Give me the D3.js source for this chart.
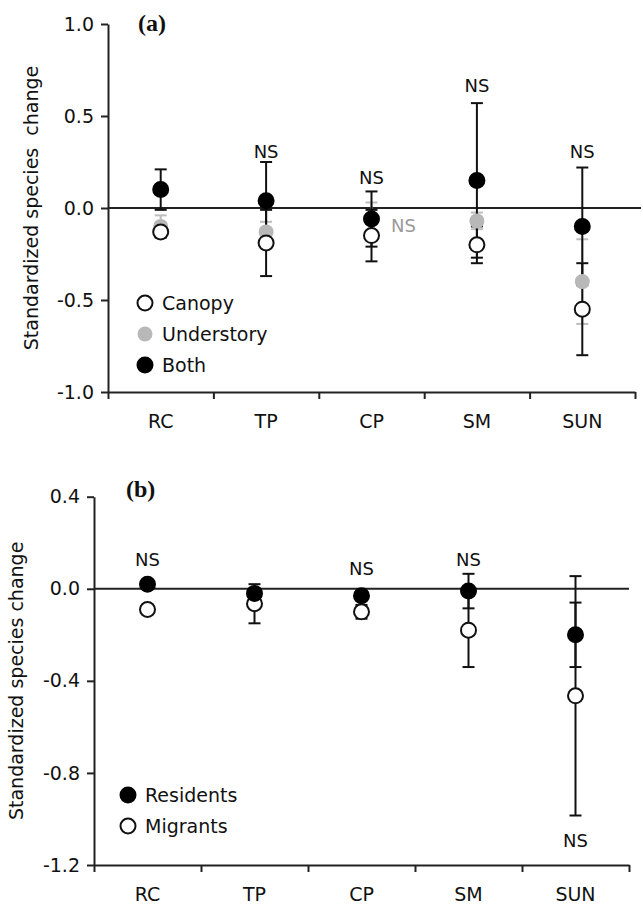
<!DOCTYPE html>
<html>
<head>
<meta charset="utf-8">
<script src="https://cdn.jsdelivr.net/npm/d3@7"></script>
<style>
  body { margin: 0; background: #fff; }
  svg text { font-family: "DejaVu Sans", Verdana, sans-serif; fill: #111; }
  .axis path, .axis line { stroke: #222; stroke-width: 2; }
  .axis text { font-size: 19px; }
</style>
</head>
<body>
<div class="chart"></div>
<script>
// categories (shared by both panels)
const categories = ["RC", "TP", "CP", "SM", "SUN"];

// panel (a)
const canopyMean = [-0.13, -0.19, -0.15, -0.20, -0.55];
const canopyErr = [0.03, 0.18, 0.14, 0.10, 0.25];
const understoryMean = [-0.10, -0.13, -0.06, -0.07, -0.40];
const understoryErr = [0.06, 0.055, 0.09, 0.045, 0.23];
const bothMean = [0.10, 0.04, -0.06, 0.15, -0.10];
const bothErr = [0.11, 0.21, 0.15, 0.42, 0.32];
const ticksA = [-1.0, -0.5, 0.0, 0.5, 1.0];
const nsCatA = ["TP", "CP", "SM", "SUN", "CP"];
const nsValA = [0.27, 0.13, 0.63, 0.27, -0.13];
const nsKindA = ["main", "main", "main", "main", "under"];
const legendA = ["Canopy", "Understory", "Both"];

// panel (b)
const residentsMean = [0.02, -0.02, -0.03, -0.01, -0.20];
const residentsErr = [0.01, 0.01, 0.01, 0.075, 0.14];
const migrantsMean = [-0.09, -0.065, -0.10, -0.18, -0.465];
const migrantsErr = [0.01, 0.085, 0.03, 0.16, 0.52];
const ticksB = [-1.2, -0.8, -0.4, 0.0, 0.4];
const nsCatB = ["RC", "CP", "SM", "SUN"];
const nsValB = [0.097, 0.058, 0.10, -1.12];
const legendB = ["Residents", "Migrants"];

const W = 643, H = 909;
const svg = d3.select('.chart').append('svg')
    .attr('width', W)
    .attr('height', H);

const styles = {
    open: {fill: "#fff", stroke: "#111", err: "#111"},
    grey: {fill: "#b8b8b8", stroke: "none", err: "#bdbdbd"},
    black: {fill: "#000", stroke: "#000", err: "#111"}
};

const fmt = d => d3.format('.1f')(d).replace('−', '-');

function drawPanel(p) {
    const xBand = d3.scaleBand().domain(categories).range([p.x0, p.x1]).paddingInner(0);
    const xEdge = d3.scaleLinear().domain([0, categories.length]).range([p.x0, p.x1]);
    const y = d3.scaleLinear().domain(p.domain).range([p.y0, p.y1]);
    const cx = c => xBand(c) + xBand.bandwidth() / 2;

    // zero line
    svg.append('line')
        .attr('x1', p.x0).attr('x2', p.zeroEnd)
        .attr('y1', y(0)).attr('y2', y(0))
        .attr('stroke', '#222').attr('stroke-width', 2);

    // y axis
    const yAxis = d3.axisLeft(y).tickValues(p.ticks).tickFormat(fmt)
        .tickSize(7).tickSizeOuter(0).tickPadding(7);
    svg.append('g')
        .attr('class', 'axis y-axis')
        .attr('transform', `translate(${p.x0},0)`)
        .call(yAxis);

    // x axis: ticks at band edges, labels at band centres
    const xTicks = d3.axisBottom(xEdge).tickValues(d3.range(categories.length + 1))
        .tickFormat('').tickSize(7).tickSizeOuter(0);
    svg.append('g')
        .attr('class', 'axis x-axis')
        .attr('transform', `translate(0,${p.y0})`)
        .call(xTicks);
    const xLabels = d3.axisBottom(xBand).tickSize(0).tickPadding(23);
    const gl = svg.append('g')
        .attr('class', 'axis x-labels')
        .attr('transform', `translate(0,${p.y0})`)
        .call(xLabels);
    gl.select('.domain').remove();

    // y label
    svg.append('text')
        .attr('transform', `translate(${p.ylabX},${(p.y0 + p.y1) / 2 + p.ylabDy}) rotate(-90)`)
        .attr('text-anchor', 'middle')
        .style('font-size', p.ylabSize + 'px')
        .style('white-space', 'pre')
        .text(p.ylabel);

    // panel letter
    svg.append('text')
        .attr('x', p.letterX).attr('y', p.letterY)
        .style('font-family', '"Liberation Serif", "DejaVu Serif", serif')
        .style('font-weight', 'bold')
        .style('font-size', '24px')
        .text(p.letter);

    // error bars, then points
    const capW = 6;
    p.series.forEach(s => {
        const st = styles[s.style];
        const g = svg.append('g');
        categories.forEach((c, i) => {
            const x = cx(c);
            const lo = y(s.mean[i] - s.err[i]), hi = y(s.mean[i] + s.err[i]);
            g.append('line').attr('x1', x).attr('x2', x).attr('y1', lo).attr('y2', hi)
                .attr('stroke', st.err).attr('stroke-width', 2);
            [lo, hi].forEach(yy => g.append('line')
                .attr('x1', x - capW).attr('x2', x + capW).attr('y1', yy).attr('y2', yy)
                .attr('stroke', st.err).attr('stroke-width', 2));
        });
    });
    p.series.forEach(s => {
        const st = styles[s.style];
        svg.append('g').selectAll('circle')
            .data(categories)
            .enter()
            .append('circle')
            .attr('cx', d => cx(d))
            .attr('cy', (d, i) => y(s.mean[i]))
            .attr('r', 7.5)
            .attr('fill', st.fill)
            .attr('stroke', st.stroke)
            .attr('stroke-width', 2);
    });

    // NS labels
    svg.append('g').selectAll('text')
        .data(p.nsCat)
        .enter()
        .append('text')
        .attr('x', (d, i) => cx(d) + (p.nsKind[i] === 'under' ? 32 : 0))
        .attr('y', (d, i) => y(p.nsVal[i]))
        .attr('text-anchor', 'middle')
        .style('font-size', '18px')
        .style('fill', (d, i) => p.nsKind[i] === 'under' ? '#9a9a9a' : '#111')
        .text('NS');

    // legend
    const leg = svg.append('g').attr('class', 'legend')
        .selectAll('g')
        .data(p.legend)
        .enter()
        .append('g')
        .attr('transform', (d, i) => `translate(${p.legX},${p.legY + i * 31})`);
    leg.append('circle')
        .attr('r', 7.5)
        .attr('fill', (d, i) => styles[p.legendStyle[i]].fill)
        .attr('stroke', (d, i) => styles[p.legendStyle[i]].stroke)
        .attr('stroke-width', 2);
    leg.append('text')
        .attr('x', 17)
        .attr('y', 7)
        .style('font-size', '19px')
        .text(d => d);
}

drawPanel({
    x0: 108, x1: 635, y0: 392, y1: 24, zeroEnd: 641,
    domain: [-1, 1], ticks: ticksA,
    ylabel: "Standardized species  change", ylabX: 38, ylabDy: 0, ylabSize: 19,
    letter: "(a)", letterX: 138, letterY: 31,
    series: [
        {mean: understoryMean, err: understoryErr, style: "grey"},
        {mean: canopyMean, err: canopyErr, style: "open"},
        {mean: bothMean, err: bothErr, style: "black"}
    ],
    nsCat: nsCatA, nsVal: nsValA, nsKind: nsKindA,
    legend: legendA, legendStyle: ["open", "grey", "black"], legX: 145, legY: 303
});

drawPanel({
    x0: 94, x1: 629, y0: 865, y1: 496.7, zeroEnd: 629,
    domain: [-1.2, 0.4], ticks: ticksB,
    ylabel: "Standardized species change", ylabX: 23, ylabDy: 0, ylabSize: 19,
    letter: "(b)", letterX: 126, letterY: 497,
    series: [
        {mean: migrantsMean, err: migrantsErr, style: "open"},
        {mean: residentsMean, err: residentsErr, style: "black"}
    ],
    nsCat: nsCatB, nsVal: nsValB, nsKind: nsCatB.map(() => "main"),
    legend: legendB, legendStyle: ["black", "open"], legX: 128, legY: 795
});
</script>
</body>
</html>
